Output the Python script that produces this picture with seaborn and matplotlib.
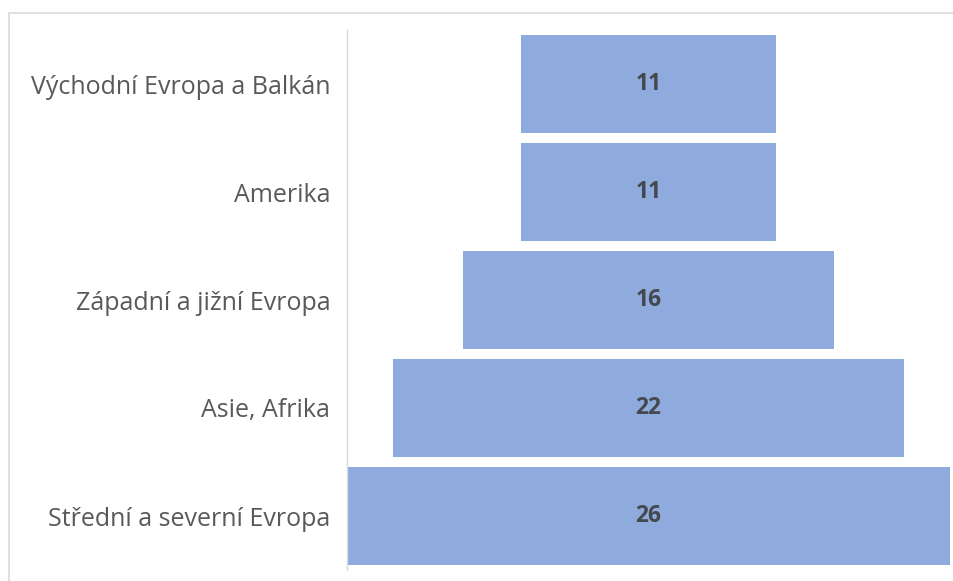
import matplotlib
matplotlib.use("Agg")
import matplotlib.pyplot as plt
import seaborn as sns
import pandas as pd
from matplotlib.patches import Rectangle

categories = ["Východní Evropa a Balkán", "Amerika", "Západní a jižní Evropa",
              "Asie, Afrika", "Střední a severní Evropa"]
values = [11, 11, 16, 22, 26]

vmax = max(values)
offsets = [(vmax - v) / 2 for v in values]
df = pd.DataFrame({"region": categories, "count": values})

sns.set_theme(style="white")
plt.rcParams["font.family"] = ["Open Sans", "DejaVu Sans"]

fig = plt.figure(figsize=(9.54, 5.81), dpi=100)
ax = fig.add_axes([347/954, 1 - 570/581, (950 - 347)/954, 540/581])

sns.barplot(data=df, x="count", y="region", orient="h", order=categories,
            color="#8faadc", saturation=1, width=0.907, left=offsets,
            linewidth=0, edgecolor="none", errorbar=None, ax=ax)

ax.bar_label(ax.containers[0], labels=[str(v) for v in values], label_type="center",
             fontsize=16.5, fontweight="bold", color="#44494f")

ax.set_xlim(0, vmax)
ax.set_xlabel("")
ax.set_ylabel("")
ax.set_xticks([])
ax.tick_params(axis="y", length=0, pad=12, labelsize=18, labelcolor="#595959")
for s in ["top", "right", "bottom"]:
    ax.spines[s].set_visible(False)
ax.spines["left"].set_color("#d9d9d9")
ax.spines["left"].set_linewidth(1)

fig.patches.append(Rectangle((9/954, -0.5), 2, 0.5 + 1 - 13/581, transform=fig.transFigure,
                             fill=False, edgecolor="#d9d9d9", linewidth=1.2))

fig.savefig("out.png", dpi=100)
